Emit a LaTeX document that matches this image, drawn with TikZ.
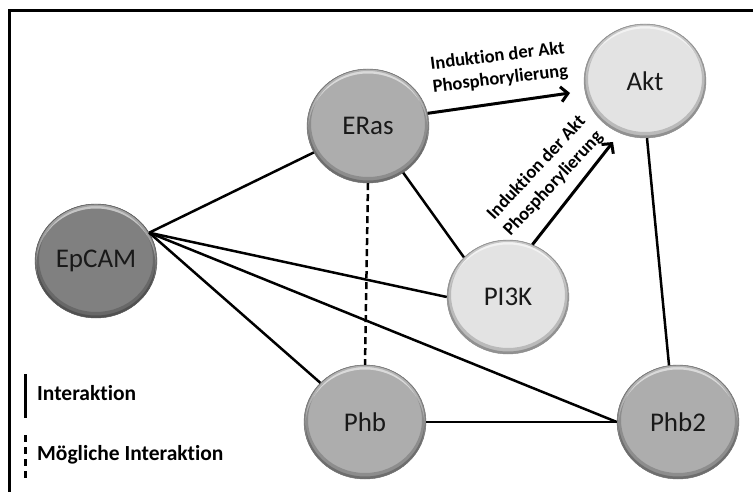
\documentclass[tikz,border=0pt]{standalone}
\usepackage{fontspec}
\setmainfont{Carlito}[Ligatures={NoCommon}]
\usetikzlibrary{shapes.geometric,arrows.meta}
\definecolor{cdark}{gray}{0.50}
\definecolor{cmid}{gray}{0.68}
\definecolor{clight}{gray}{0.89}
\tikzset{
  bevel/.style={path picture={
    \coordinate (pc) at (path picture bounding box.center);
    \fill[white,opacity=.55,even odd rule] (pc) ellipse[x radius=61pt,y radius=57pt]
      ([yshift=-3pt]pc) ellipse[x radius=59.5pt,y radius=55.5pt];
    \fill[black,opacity=.18,even odd rule] (pc) ellipse[x radius=61pt,y radius=57pt]
      ([yshift=2pt]pc) ellipse[x radius=57pt,y radius=53pt];
    \fill[black,opacity=.22,even odd rule] (pc) ellipse[x radius=61pt,y radius=57pt]
      ([yshift=1pt]pc) ellipse[x radius=59.5pt,y radius=55.5pt];
  }},
  prot/.style={ellipse, minimum width=122pt, minimum height=114pt, inner sep=0pt,
    font=\fontsize{27}{30}\selectfont, text=black!90, line width=0.4pt, bevel},
  pdark/.style={prot, fill=cdark, draw=cdark!60!black},
  pmid/.style={prot, fill=cmid, draw=cmid!60!black},
  plight/.style={prot, fill=clight, draw=clight!60!black},
  link/.style={line width=2.5pt},
  maybe/.style={line width=2.5pt, dash pattern=on 7pt off 4pt},
  induce/.style={line width=3pt, -{Straight Barb[length=7pt,width=15pt]}},
  elabel/.style={font=\bfseries\fontsize{18.5}{23}\selectfont, align=center, inner sep=0pt},
  legtext/.style={font=\bfseries\fontsize{21.5}{26}\selectfont, anchor=base west, inner sep=0pt},
  frameline/.style={line width=3pt}
}
\begin{document}
\begin{tikzpicture}[x=1pt,y=-1pt]
\useasboundingbox (0,0) rectangle (753,492);
\clip (0,0) rectangle (753,492);
\fill[white] (0,0) rectangle (753,492);
% frame
\coordinate (fb) at (9,500);
\coordinate (fc) at (9,11);
\coordinate (fr) at (760,11);
\draw[frameline] (fb) -- (fc) -- (fr);
% nodes
\node[pdark]  (EpCAM) at (96,261)  {EpCAM};
\node[pmid]   (ERas)  at (368,126) {ERas};
\node[plight] (Akt)   at (645,81)  {Akt};
\node[plight] (PI3K)  at (508,297) {PI3K};
\node[pmid]   (Phb)   at (365,422) {Phb};
\node[pmid]   (Phb2)  at (678,422) {Phb2};
% connectors
\coordinate (ep) at (EpCAM.28);
\draw[link] (ep) -- (ERas);
\draw[link] (ep) -- (PI3K.west);
\draw[link] (ep) -- (Phb);
\draw[link] (ep) -- (Phb2.west);
\draw[link] (ERas.307) -- (PI3K.138);
\draw[link] (Phb.east) -- (Phb2.west);
\draw[link] (Akt.272) -- (Phb2.99);
\draw[maybe] (ERas.south) -- (Phb.north);
% arrows
\coordinate (t1) at (570,93);
\coordinate (t2) at (613,142);
\draw[induce] (ERas.12) -- (t1);
\draw[induce] (PI3K.65) -- (t2);
\node[elabel, rotate=7]  (l1) at (499,68)  {Induktion der Akt\\Phosphorylierung};
\node[elabel, rotate=47] (l2) at (545,176) {Induktion der Akt\\Phosphorylierung};
% legend
\coordinate (la) at (25.5,374);
\coordinate (lb) at (25.5,418);
\coordinate (lc) at (25.5,435);
\coordinate (ld) at (25.5,481);
\draw[link] (la) -- (lb);
\draw[line width=2.5pt, dash pattern=on 7pt off 5pt] (lc) -- (ld);
\node[legtext] (lt1) at (37,400) {Interaktion};
\node[legtext] (lt2) at (37,460) {Mögliche Interaktion};
\end{tikzpicture}
\end{document}
